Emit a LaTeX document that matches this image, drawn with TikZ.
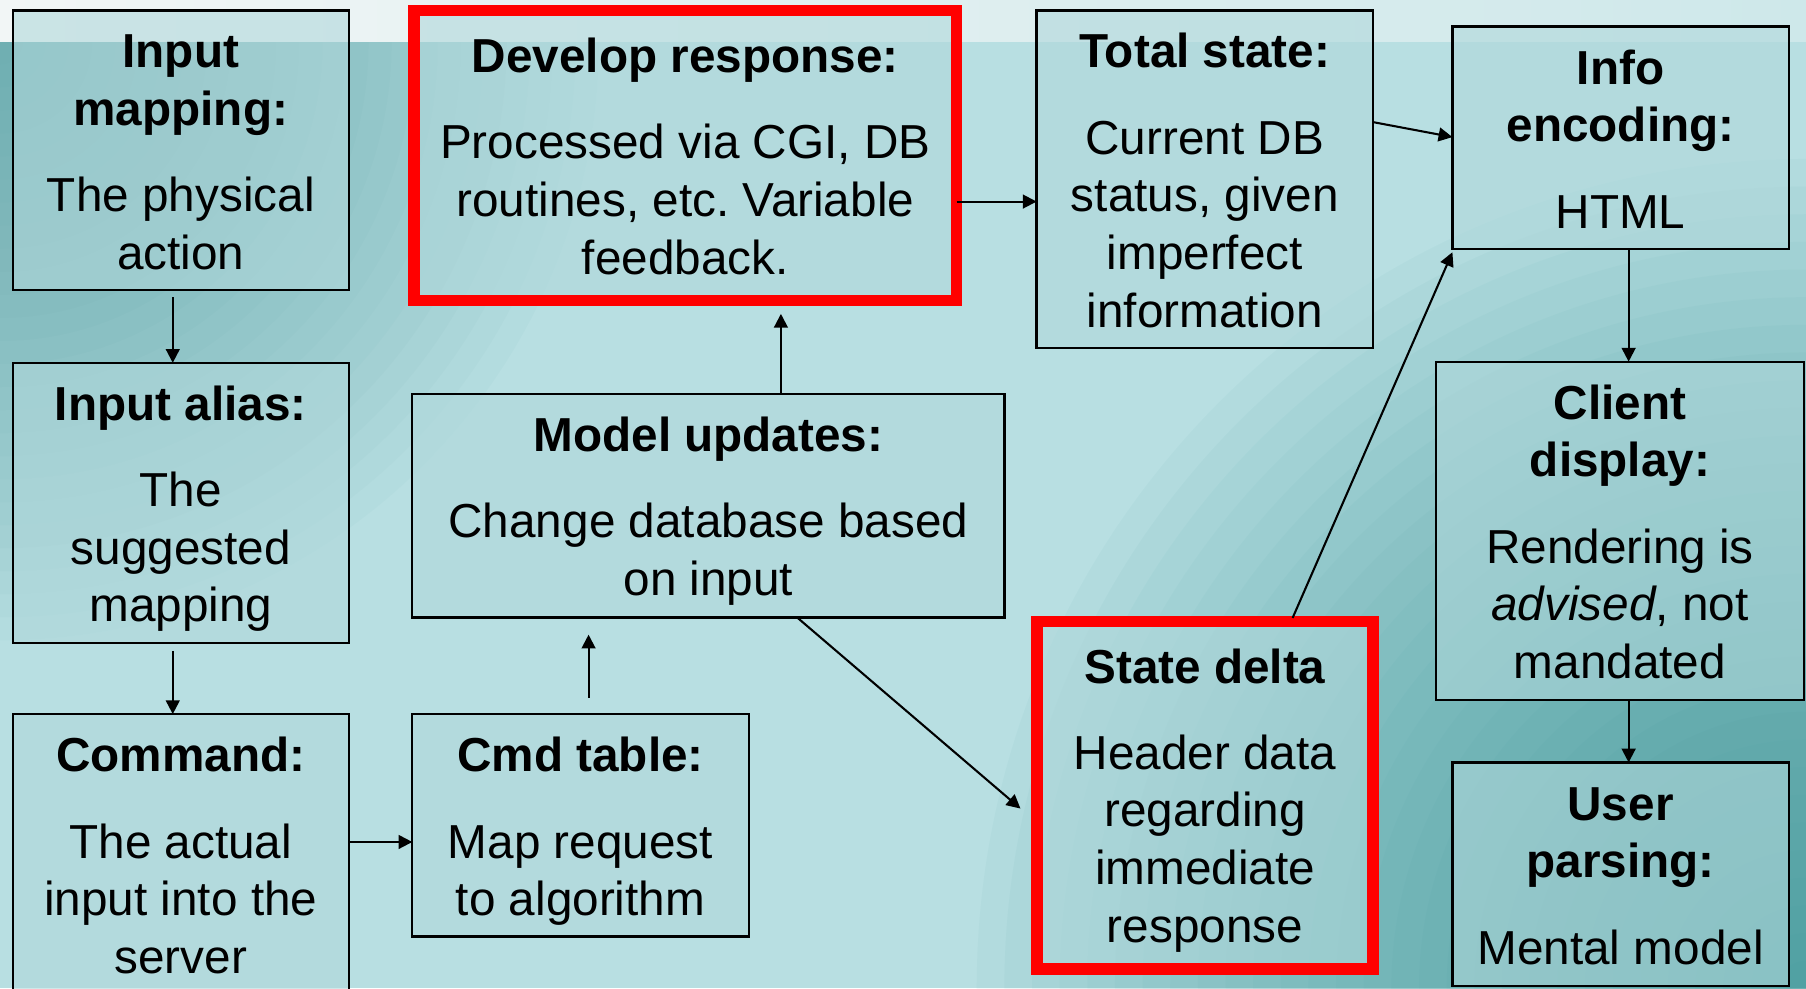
\documentclass[tikz,border=0pt]{standalone}
\usepackage{fontspec}
\setmainfont{Liberation Sans}
\usetikzlibrary{arrows.meta,calc}

\definecolor{bandL}{RGB}{242,246,246}
\definecolor{bandR}{RGB}{206,232,234}
\definecolor{bgbase}{RGB}{184,223,226}
\definecolor{bgTL}{RGB}{90,162,165}
\definecolor{bgBR}{RGB}{55,148,150}
\definecolor{boxfill}{RGB}{176,216,219}
\definecolor{alert}{RGB}{255,0,0}

% card contents: width, height (in picture units), first baseline (pt), title, body
\newcommand{\cardtext}[5]{%
  \parbox[c][\dimexpr#2pt/2\relax][t]{\dimexpr#1pt/2\relax}{%
    \centering\frenchspacing\fontsize{20.7}{25}\selectfont
    \rule{0pt}{#3pt}\textbf{#4}\par
    \vspace{12.5pt}#5\par}}

\tikzset{
  card/.style={draw=black, line width=1pt, fill=boxfill, fill opacity=0.6,
    text opacity=1, inner sep=0pt, outer sep=0pt, anchor=north west},
  hotcard/.style={card, draw=alert, line width=5pt},
  arr/.style={draw=black, line width=0.9pt, -{Triangle[length=6pt,width=6pt]}}
}

\begin{document}
\begin{tikzpicture}[x=0.5pt, y=-0.5pt]
  \useasboundingbox (0,0) rectangle (1568,858);
  \clip (0,0) rectangle (1568,858);

  % background: light teal, darkening softly towards two corners
  \fill[bgbase] (0,0) rectangle (1568,858);
  \begin{scope}
    \clip (0,36) rectangle (1568,858);
    \foreach \k in {1,...,26}
      \fill[bgTL, opacity=0.045] (0,36) circle ({20*\k});
    \foreach \k in {1,...,30}
      \fill[bgBR, opacity=0.045] (1568,858) circle ({24*\k});
  \end{scope}
  \shade[left color=bandL, right color=bandR] (0,0) rectangle (1568,36);

  % left column
  \node[card] (im) at (11,9)
    {\cardtext{292}{243}{25}{Input\\mapping:}{The physical\\action}};
  \node[card] (ia) at (11,315)
    {\cardtext{292}{243}{25}{Input alias:}{The\\suggested\\mapping}};
  \node[card] (cmd) at (11,620)
    {\cardtext{292}{270}{25}{Command:}{The actual\\input into the\\server}};

  % middle column
  \node[hotcard] (dr) at (359.5,9)
    {\cardtext{471}{252}{27}{Develop response:}{Processed via CGI, DB\\routines, etc. Variable\\feedback.}};
  \node[card] (mu) at (358,342)
    {\cardtext{514}{194}{25}{Model updates:}{Change database based\\on input}};
  \node[card] (ct) at (358,620)
    {\cardtext{292}{193}{25}{Cmd table:}{Map request\\to algorithm}};

  % state column
  \node[card] (ts) at (900,9)
    {\cardtext{292}{293}{25}{Total state:}{Current DB\\status, given\\imperfect\\information}};
  \node[hotcard] (sd) at (900.5,539.5)
    {\cardtext{291.5}{302}{26.75}{State delta}{Header data\\regarding\\immediate\\response}};

  % client column
  \node[card] (ie) at (1261,23)
    {\cardtext{292}{193}{25}{Info\\encoding:}{HTML}};
  \node[card] (cd) at (1247,314)
    {\cardtext{319}{294}{25}{Client\\display:}{Rendering is\\\textit{advised}, not\\mandated}};
  \node[card] (up) at (1261,662)
    {\cardtext{292}{194}{25}{User\\parsing:}{Mental model}};

  % connectors
  \draw[arr] ($(im.south)+(-7,6)$) -- ($(ia.north)+(-7,0)$);
  \draw[arr] ($(ia.south)+(-7,7)$) -- ($(cmd.north)+(-7,0)$);
  \draw[arr] ($(cmd.north east)+(0,111)$) -- ($(ct.north west)+(0,111)$);
  \draw[arr] ($(ct.north)+(7,-14)$) -- ($(ct.north |- mu.south)+(7,15)$);
  \draw[arr] ($(mu.north)+(63,0)$) -- ($(mu.north |- dr.south)+(63,11.5)$);
  \draw[arr] ($(dr.east)+(0,40)$) -- ($(ts.west)+(0,19.5)$);
  \draw[arr] ($(ts.north east)+(0,97)$) -- ($(ie.north west)+(0,96)$);
  \draw[arr] ($(mu.south)+(77,0)$) -- ($(sd.west)+(-14.5,11.5)$);
  \draw[arr] ($(sd.north)+(76,-3)$) -- ($(ie.south west)+(0,3)$);
  \draw[arr] ($(ie.south)+(7,0)$) -- ($(ie.south |- cd.north)+(7,0)$);
  \draw[arr] ($(up.north |- cd.south)+(7,0)$) -- ($(up.north)+(7,0)$);
\end{tikzpicture}
\end{document}
